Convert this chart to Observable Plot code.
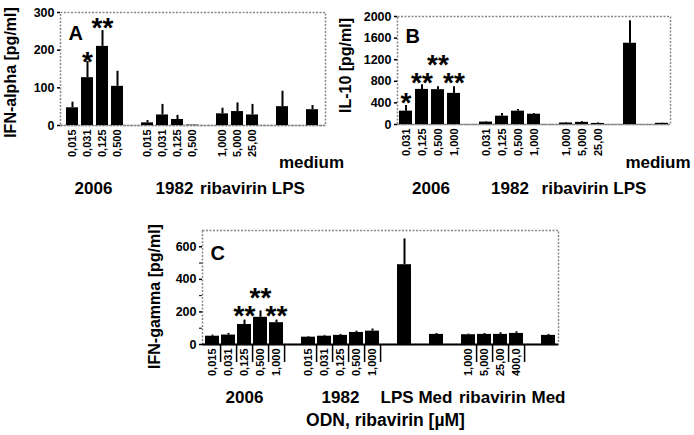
<!DOCTYPE html>
<html>
<head>
<meta charset="utf-8">
<script src="https://cdn.jsdelivr.net/npm/d3@7"></script>
<script src="https://cdn.jsdelivr.net/npm/@observablehq/plot@0.6"></script>
<style>
  html, body { margin: 0; padding: 0; background: #fff; }
  #wrap { position: relative; width: 694px; height: 435px; overflow: hidden; }
  #wrap svg { position: absolute; overflow: visible; max-width: none; }
</style>
</head>
<body>
<div id="wrap"></div>
<script>
// ---------- Panel A: IFN-alpha ----------
const ticksA = ["0,015","0,031","0,125","0,500","","0,015","0,031","0,125","0,500","","1,000","5,000","25,00","","","",""];
const valuesA = [47,127,210,104,null,7,28,16,1,null,31,37,28,null,50,null,42];
const errorsA = [62,170,252,144,null,13,56,27,1,null,46,60,56,null,91,null,53];
const starSlotsA = [1,2];
const starTextA = ["*","**"];
const starYA = [191,279];
const groupsA = ["2006","1982","ribavirin LPS","medium"];
const groupSlotsA = [1,6,12,16];

// ---------- Panel B: IL-10 ----------
const ticksB = ["0,031","0,125","0,500","1,000","","0,031","0,125","0,500","1,000","","1,000","5,000","25,00","","","",""];
const valuesB = [247,650,645,576,null,45,154,247,191,null,28,40,20,null,1505,null,22];
const errorsB = [353,736,700,698,null,55,204,279,204,null,35,55,30,null,1919,null,28];
const starSlotsB = [0,1,2,3];
const starTextB = ["*","**","**","**"];
const starYB = [537,907,1241,907];
const groupsB = ["2006","1982","ribavirin LPS","medium"];
const groupSlotsB = [1,6,12,16];

// ---------- Panel C: IFN-gamma ----------
const ticksC = ["0,015","0,031","0,125","0,500","1,000","","0,015","0,031","0,125","0,500","1,000","","","","","","1,000","5,000","25,00","400,0","",""];
const valuesC = [51,58,123,167,134,null,45,51,56,74,82,null,490,null,62,null,60,62,62,68,null,56];
const errorsC = [58,68,150,206,150,null,49,56,62,82,95,null,648,null,68,null,64,68,72,78,null,62];
const starSlotsC = [2,3,4];
const starTextC = ["**","**","**"];
const starYC = [227,332,227];
const groupsC = ["2006","1982","LPS Med","ribavirin","Med"];
const groupSlotsC = [2,8,13,17,21];

const FONT = "'Liberation Sans', Arial, sans-serif";

function rows(values, errors) {
  return values.map((v, i) => ({i, v, e: errors[i]})).filter(d => d.v != null);
}

function groupMark(label, slot, dx, dy) {
  return Plot.text([label], {x: () => slot, frameAnchor: "bottom", text: d => d,
    dx, dy, fontSize: 17, lineAnchor: "middle", textAnchor: "middle"});
}

function panel(cfg) {
  const n = cfg.ticks.length;
  const data = rows(cfg.values, cfg.errors);
  const stars = cfg.starSlots.map((s, k) => ({i: s, y: cfg.starY[k], t: cfg.starText[k]}));
  const marks = [
    Plot.frame({stroke: "#888", strokeWidth: 1.5, strokeDasharray: "2,1.5"}),
    Plot.ruleY([0], cfg.baseline),
    Plot.barY(data, {x: "i", y: "v", fill: "black"}),
    Plot.ruleX(data, {x: "i", y1: "v", y2: "e", stroke: "black", strokeWidth: 2}),
    Plot.axisX({tickFormat: i => cfg.ticks[i], tickRotate: -90, tickSize: 0, tickPadding: 4, fontSize: 11, label: null}),
    Plot.axisY({ticks: cfg.yTicks, tickFormat: d => String(d), tickSize: 3, tickPadding: 3, fontSize: 12.5, label: null, line: true, strokeWidth: 1.5}),
    Plot.text(stars, {x: "i", y: "y", text: "t", fontSize: 28, dy: 8, lineAnchor: "middle"}),
    Plot.text([cfg.letter], {frameAnchor: "top-left", text: d => d, dx: 8, dy: cfg.letterDy, fontSize: 20, lineAnchor: "top", textAnchor: "start"}),
    Plot.text([cfg.ylabel], {frameAnchor: "left", text: d => d, rotate: -90, dx: cfg.ylabelDx, dy: cfg.ylabelDy, fontSize: 16, lineAnchor: "middle", textAnchor: "middle"}),
    ...cfg.extra
  ];
  const svg = Plot.plot({
    width: cfg.width, height: cfg.height,
    marginLeft: cfg.ml, marginRight: cfg.mr, marginTop: cfg.mt, marginBottom: cfg.mb,
    style: {background: "transparent", fontFamily: FONT, fontWeight: "bold", color: "black", overflow: "visible"},
    x: {type: "band", domain: d3.range(n), paddingInner: cfg.pad, paddingOuter: cfg.pad / 2, axis: null},
    y: {domain: cfg.yDomain, axis: null},
    marks
  });
  svg.style.left = cfg.left + "px";
  svg.style.top = cfg.top + "px";
  document.getElementById("wrap").appendChild(svg);
}

const dashedBase = {stroke: "#888", strokeWidth: 1.5, strokeDasharray: "2,1.5"};

// Panel A
panel({
  ticks: ticksA, values: valuesA, errors: errorsA, starSlots: starSlotsA, starText: starTextA, starY: starYA,
  yDomain: [0, 300], yTicks: [0, 100, 200, 300], pad: 0.17,
  left: 0, top: 0, width: 350, height: 200, ml: 60, mr: 25, mt: 12, mb: 75,
  baseline: dashedBase, letter: "A", letterDy: 13,
  ylabel: "IFN-alpha [pg/ml]", ylabelDx: -50, ylabelDy: 3.5,
  extra: [
    groupMark(groupsA[0], groupSlotsA[0], 6, 62.6),
    groupMark(groupsA[1], groupSlotsA[1], 12, 62.6),
    groupMark(groupsA[2], groupSlotsA[2], 0, 62.6),
    groupMark(groupsA[3], groupSlotsA[3], -1, 36.6)
  ]
});

// Panel B
panel({
  ticks: ticksB, values: valuesB, errors: errorsB, starSlots: starSlotsB, starText: starTextB, starY: starYB,
  yDomain: [0, 2000], yTicks: [0, 400, 800, 1200, 1600, 2000], pad: 0.19,
  left: 340, top: 0, width: 354, height: 200, ml: 57, mr: 24, mt: 16, mb: 76,
  baseline: dashedBase, letter: "B", letterDy: 12,
  ylabel: "IL-10 [pg/ml]", ylabelDx: -52, ylabelDy: -5,
  extra: [
    groupMark(groupsB[0], groupSlotsB[0], 9, 63.6),
    groupMark(groupsB[1], groupSlotsB[1], 8, 63.6),
    groupMark(groupsB[2], groupSlotsB[2], -4, 63.6),
    groupMark(groupsB[3], groupSlotsB[3], -4, 37.6)
  ]
});

// Panel C
const wC = 420, mlC = 52, mrC = 12;
const halfStepC = (wC - mlC - mrC) / ticksC.length / 2;
const labeledC = d3.range(ticksC.length).filter(i => ticksC[i] !== "");
panel({
  ticks: ticksC, values: valuesC, errors: errorsC, starSlots: starSlotsC, starText: starTextC, starY: starYC,
  yDomain: [0, 700], yTicks: [0, 200, 400, 600], pad: 0.15,
  left: 150, top: 215, width: wC, height: 220, ml: mlC, mr: mrC, mt: 15, mb: 91,
  baseline: {stroke: "black", strokeWidth: 2}, letter: "C", letterDy: 15,
  ylabel: "IFN-gamma [pg/ml]", ylabelDx: -48, ylabelDy: 9,
  extra: [
    Plot.axisY({ticks: [100, 300, 500], tickSize: 3, tickFormat: () => "", label: null}),
    Plot.axisX({ticks: labeledC, tickSize: 18, tickFormat: () => "", dx: halfStepC, strokeWidth: 1.5, label: null}),
    groupMark(groupsC[0], groupSlotsC[0], 0, 52.6),
    groupMark(groupsC[1], groupSlotsC[1], 0, 52.6),
    groupMark(groupsC[2], groupSlotsC[2], -4, 52.6),
    groupMark(groupsC[3], groupSlotsC[3], 8, 52.6),
    groupMark(groupsC[4], groupSlotsC[4], 0, 52.6),
    Plot.text(["ODN, ribavirin [µM]"], {frameAnchor: "bottom", text: d => d, dx: 5, dy: 75.6, fontSize: 17.5, lineAnchor: "middle", textAnchor: "middle"})
  ]
});
</script>
</body>
</html>
